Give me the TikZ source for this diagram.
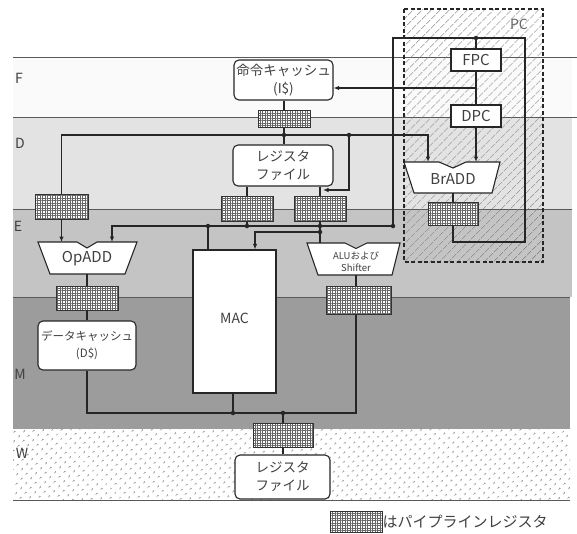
\documentclass[tikz,border=0pt]{standalone}
\usepackage{fontspec}
\setmainfont{Noto Sans CJK JP}
\usetikzlibrary{patterns,patterns.meta,arrows.meta}
\begin{document}
\begin{tikzpicture}[x=1pt,y=-1pt,
  bandline/.style={draw=black!65, line width=0.6pt},
  wire/.style={draw=black!85, line width=1.5pt},
  arr/.style={wire,-{Latex[length=5.5pt,width=4.5pt]}},
  jdot/.style={circle, fill=black!85, inner sep=0pt, minimum size=4.5pt},
  txt/.style={text=black!75, inner sep=0pt},
  boxn/.style={draw=black!85, line width=1.1pt, rounded corners=5pt, fill=white, align=center, inner sep=0pt, text=black!75, font=\fontsize{13.5}{18}\selectfont},
  sqn/.style={draw=black!85, line width=1.1pt, fill=white, inner sep=0pt, text=black!75, font=\fontsize{15}{18}\selectfont},
  regn/.style={draw=black!80, line width=0.8pt, inner sep=0pt,
    preaction={fill=white},
    preaction={pattern={Lines[angle=0,distance=2.5pt,line width=0.5pt]}, pattern color=black!60},
    pattern={Lines[angle=90,distance=2.5pt,line width=0.5pt]}, pattern color=black!60},
  trap/.style={draw=black!85, line width=1.1pt, fill=white, line join=miter}
]
\useasboundingbox (0,0) rectangle (577,533);
% bands
\fill[black!2] (13,57) rectangle (572,117);
\fill[black!11] (13,117) rectangle (572,209);
\fill[black!23] (13,209) rectangle (572,297);
\fill[black!39] (13,297) rectangle (570,429);
\fill[white] (13,429) rectangle (570,500);
\fill[pattern={Dots[distance=6.5pt,angle=45,radius=0.85pt]}, pattern color=black!70] (13,429) rectangle (570,500);
\draw[bandline] (13,57) -- (577,57);
\draw[bandline] (13,117) -- (577,117);
\draw[bandline] (13,209) -- (572,209);
\draw[bandline] (13,297) -- (570,297);
\draw[bandline] (13,500) -- (570,500);
% stage labels
\node[txt, font=\fontsize{14}{16}\selectfont] (lF) at (19,78) {F};
\node[txt, font=\fontsize{14}{16}\selectfont] (lD) at (20,143) {D};
\node[txt, font=\fontsize{14}{16}\selectfont] (lE) at (18,226) {E};
\node[txt, font=\fontsize{14}{16}\selectfont] (lM) at (20,374) {M};
\node[txt, font=\fontsize{14}{16}\selectfont] (lW) at (22,453) {W};
% PC region
\fill[pattern={Lines[angle=45,distance=6.5pt,line width=0.6pt]}, pattern color=black!60] (404,9) rectangle (543,262);
\draw[draw=black!85, line width=1.6pt, dash pattern=on 4pt off 2.5pt] (404,9) rectangle (543,262);
\node[txt, font=\fontsize{14}{16}\selectfont, text=black!60] (pc) at (519,24) {PC};

% nodes
\node[boxn, minimum width=99, minimum height=40] (ic) at (283.5,80) {命令キャッシュ\\(I\$)};
\node[regn, minimum width=52, minimum height=17] (rI) at (284,119) {};
\node[boxn, minimum width=100, minimum height=41] (rf) at (283,165.5) {レジスタ\\ファイル};
\node[regn, minimum width=52, minimum height=25] (rA) at (247,208.5) {};
\node[regn, minimum width=52, minimum height=25] (rB) at (320.5,208.5) {};
\node[regn, minimum width=53, minimum height=25] (rL) at (61.5,206.5) {};
\node[sqn, minimum width=50, minimum height=22] (fpc) at (476,60) {FPC};
\node[sqn, minimum width=50, minimum height=22] (dpc) at (476,116) {DPC};
\node[regn, minimum width=50, minimum height=23] (rBr) at (453,213.5) {};

% trapezoids
\draw[trap] (38,242) -- (77,242) -- (87,248) -- (97,242) -- (137,242) -- (125,274) -- (50,274) -- cycle;
\node[txt, font=\fontsize{15}{18}\selectfont] (op) at (87,259) {OpADD};
\draw[trap] (307,243) -- (345,243) -- (356,248.5) -- (367,243) -- (400,243) -- (392,275) -- (318,275) -- cycle;
\node[txt, align=center, font=\fontsize{9.5}{12}\selectfont] (alu) at (356,262) {ALUおよび\\Shifter};
\draw[trap] (404,162) -- (439,162) -- (453,168) -- (466,162) -- (500,162) -- (492,193) -- (414,193) -- cycle;
\node[txt, font=\fontsize{15}{18}\selectfont] (br) at (453,179) {BrADD};

\node[regn, minimum width=62, minimum height=24] (rOp) at (87,298) {};
\node[boxn, minimum width=98, minimum height=49, font=\fontsize{11.5}{17}\selectfont] (dc) at (87,345.5) {データキャッシュ\\(D\$)};
\node[draw=black!85, line width=1.1pt, fill=white, minimum width=83, minimum height=143, inner sep=0pt] (mac) at (234.5,321.5) {};
\node[txt, font=\fontsize{14}{16}\selectfont] (macl) at (234.5,318) {MAC};
\node[regn, minimum width=65, minimum height=28] (rALU) at (358.5,300) {};
\node[regn, minimum width=60, minimum height=24] (rW) at (283,435) {};
\node[boxn, minimum width=95, minimum height=44] (wrf) at (282.5,477) {レジスタ\\ファイル};
% legend
\node[regn, minimum width=52, minimum height=21] (rLeg) at (356,521.5) {};
\node[txt, anchor=west, font=\fontsize{15}{18}\selectfont] (leg) at (rLeg.east) {はパイプラインレジスタ};

% coordinates
\coordinate (j1) at (284,135);
\coordinate (j2) at (349,135);
\coordinate (pcA) at (476,38);
\coordinate (pcB) at (476,88);
\coordinate (b1) at (393,226);
\coordinate (b2) at (208,226);
\coordinate (b3) at (247,226);
\coordinate (b4) at (320,226);
\coordinate (b5) at (320,232);
\coordinate (m1) at (233,413);
\coordinate (m2) at (283,413);

% wires
\draw[wire] (ic.south -| rI.north) -- (rI.north);
\draw[wire] (rI.south) -- (rf.north -| rI.south);
\draw[arr] (rL.north) |- (428,135) -- (428,162);
\draw[arr] (j2) |- (323,190);
\draw[wire] (rf.south -| rA.north) -- (rA.north);
\draw[wire] (rf.south -| b4) -- (rB.north -| b4);
\draw[arr] (rL.south) -- (61.5,242);
\draw[arr] (rBr.south) |- (525,242) |- (393,38) |- (112,226) -- (112,242);
\draw[wire] (pcA) -- (fpc.north);
\draw[wire] (fpc.south) -- (dpc.north);
\draw[arr] (dpc.south) -- (476,162);
\draw[arr] (pcB) -- (pcB -| ic.east);
\draw[wire] (b2) -- (mac.north -| b2);
\draw[wire] (rA.south) -- (b3);
\draw[wire] (rB.south -| b4) -- (320,243);
\draw[arr] (b5) -- (255,232) -- (mac.north -| 255,0);
\draw[wire] (87,274) -- (rOp.north);
\draw[wire] (rOp.south) -- (dc.north);
\draw[wire] (356,275) -- (rALU.north -| 356,0);
\draw[wire] (dc.south) |- (356,413) -- (rALU.south -| 356,0);
\draw[wire] (mac.south -| m1) -- (m1);
\draw[wire] (m2) -- (rW.north);
\draw[wire] (rW.south) -- (wrf.north -| rW.south);
\draw[wire] (453,193) -- (rBr.north);

% junction dots
\foreach \p in {j1,j2,pcA,b1,b2,b3,b4,b5,m1,m2} \node[jdot] at (\p) {};
\end{tikzpicture}
\end{document}
